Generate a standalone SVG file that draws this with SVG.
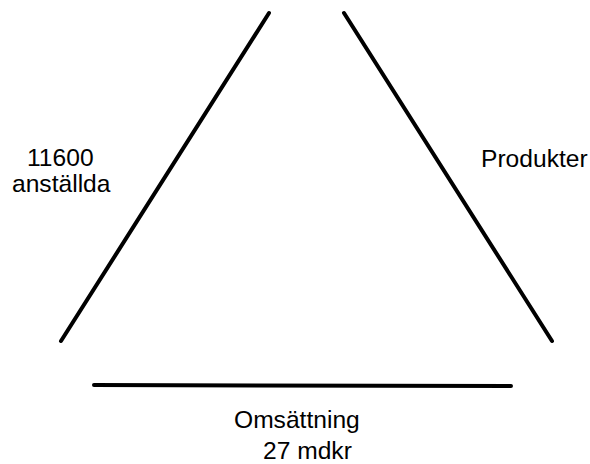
<svg xmlns="http://www.w3.org/2000/svg" width="590" height="464" viewBox="0 0 590 464">
<style>
.l{stroke:#000;stroke-width:4;stroke-linecap:round;fill:none}
.t{font-family:"Liberation Sans",Arial,sans-serif;font-size:24.6px;fill:#000}
</style>
<rect width="590" height="464" fill="#fff"/>
<g id="connectors">
<line class="l" x1="269" y1="13" x2="61" y2="341"/>
<line class="l" x1="344" y1="13" x2="552" y2="341"/>
<line class="l" x1="94" y1="385" x2="511" y2="386"/>
</g>
<g id="label-left">
<text class="t" x="27" y="166">11600</text>
<text class="t" x="12" y="192">anställda</text>
</g>
<g id="label-right">
<text class="t" x="481" y="167">Produkter</text>
</g>
<g id="label-bottom">
<text class="t" x="234" y="428">Omsättning</text>
<text class="t" x="263" y="459">27 mdkr</text>
</g>
</svg>
